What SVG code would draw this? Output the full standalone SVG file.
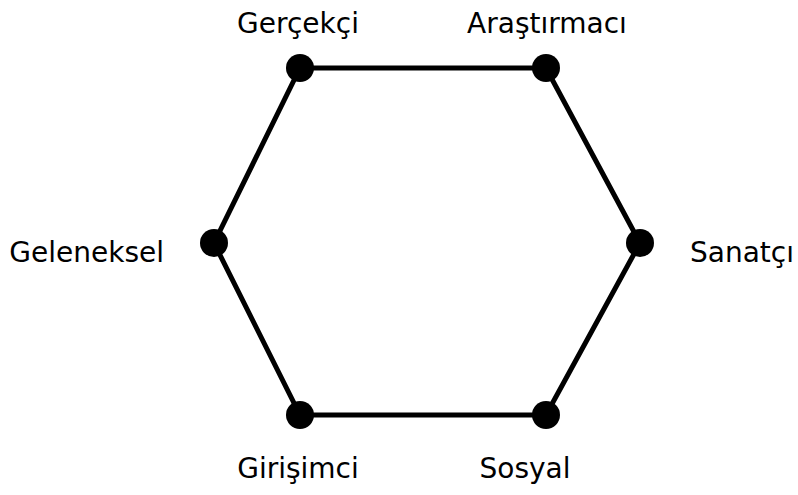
<svg xmlns="http://www.w3.org/2000/svg" width="798" height="495" viewBox="0 0 798 495">
<style>
.edge{stroke:#000;stroke-width:5;fill:none}
.dot{fill:#000}
.lbl{font-family:"DejaVu Sans",sans-serif;font-size:28px;fill:#000}
</style>
<rect width="798" height="495" fill="#fff"/>
<g id="connectors">
<polygon class="edge" points="300,68 546,68 640,243 546,415 300,415 214,243"/>
</g>
<g id="gercekci"><circle class="dot" cx="300" cy="68" r="14"/><text class="lbl" x="298" y="33" text-anchor="middle">Gerçekçi</text></g>
<g id="arastirmaci"><circle class="dot" cx="546" cy="68" r="14"/><text class="lbl" x="547" y="33" text-anchor="middle">Araştırmacı</text></g>
<g id="sanatci"><circle class="dot" cx="640" cy="243" r="14"/><text class="lbl" x="690" y="262">Sanatçı</text></g>
<g id="sosyal"><circle class="dot" cx="546" cy="415" r="14"/><text class="lbl" x="525" y="478" text-anchor="middle">Sosyal</text></g>
<g id="girisimci"><circle class="dot" cx="300" cy="415" r="14"/><text class="lbl" x="298" y="478" text-anchor="middle">Girişimci</text></g>
<g id="geleneksel"><circle class="dot" cx="214" cy="243" r="14"/><text class="lbl" x="164" y="262" text-anchor="end">Geleneksel</text></g>
</svg>
